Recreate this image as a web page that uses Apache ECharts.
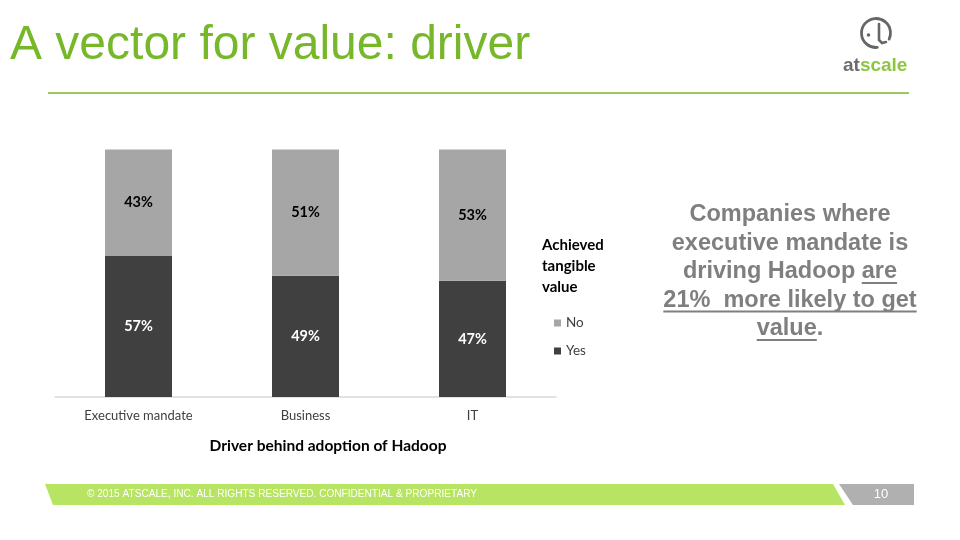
<!DOCTYPE html>
<html>
<head>
<meta charset="utf-8">
<title>A vector for value: driver</title>
<script src="https://cdn.jsdelivr.net/npm/echarts@6/dist/echarts.min.js"></script>
<style>
  html, body { margin: 0; padding: 0; background: #fff; }
  #main { width: 960px; height: 540px; }
</style>
</head>
<body>
<div id="main"></div>
<script>
// chart data
var categories = ['Executive mandate', 'Business', 'IT'];
var yesValues = [57, 49, 47];
var noValues = [43, 51, 53];
var seriesNames = ['No', 'Yes'];

var GREEN = '#77b82a';
var GRAY_TEXT = '#7f7f7f';
var SANS = '"Liberation Sans", Arial, sans-serif';
var CHART_FONT = 'Lato, "Open Sans", sans-serif';

// measure text so the underlines sit under the right words
var ctx = document.createElement('canvas').getContext('2d');
function textWidth(str, font) {
    ctx.font = font;
    return ctx.measureText(str).width;
}
function deg(d) { return d * Math.PI / 180; }

var calloutFont = 'bold 23.5px ' + SANS;
var calloutLines = [
    'Companies where',
    'executive mandate is',
    'driving Hadoop are',
    '21%  more likely to get',
    'value.'
];
var calloutX = 790, calloutY0 = 215, calloutStep = 28.5;

var graphics = [];

// title + separator
graphics.push({
    type: 'text', left: 10, top: 22,
    style: { text: 'A vector for value: driver', fill: GREEN, font: '48px ' + SANS }
});
graphics.push({
    type: 'line', shape: { x1: 48, y1: 93, x2: 909, y2: 93 },
    style: { stroke: GREEN, lineWidth: 1.5 }
});

// logo
graphics.push({
    type: 'arc', shape: { cx: 876, cy: 33, r: 14.5, startAngle: deg(85), endAngle: deg(385), clockwise: true },
    style: { stroke: '#666', lineWidth: 2.8, fill: null, lineCap: 'round' }
});
graphics.push({
    type: 'circle', shape: { cx: 868.5, cy: 35, r: 1.8 }, style: { fill: '#666' }
});
graphics.push({
    type: 'polyline', shape: { points: [[879, 24], [879, 40], [882, 43], [886, 42]] },
    style: { stroke: '#666', lineWidth: 2.6, fill: null, lineCap: 'round' }
});
graphics.push({
    type: 'text', left: 843, top: 56,
    style: {
        text: '{a|at}{b|scale}',
        rich: {
            a: { fill: '#6d6d6d', font: 'bold 19px ' + SANS },
            b: { fill: '#8cc63f', font: 'bold 19px ' + SANS }
        }
    }
});

// callout text
calloutLines.forEach(function (line, i) {
    graphics.push({
        type: 'text', x: calloutX, y: calloutY0 + i * calloutStep,
        style: { text: line, fill: GRAY_TEXT, font: calloutFont, align: 'center', verticalAlign: 'middle' }
    });
});
function underline(lineIdx, before, part) {
    var full = calloutLines[lineIdx];
    var w = textWidth(full, calloutFont);
    var start = calloutX - w / 2 + textWidth(before, calloutFont);
    var end = start + textWidth(part, calloutFont);
    var y = calloutY0 + lineIdx * calloutStep + 11;
    graphics.push({
        type: 'line', shape: { x1: start, y1: y, x2: end, y2: y },
        style: { stroke: GRAY_TEXT, lineWidth: 2 }
    });
}
underline(2, 'driving Hadoop ', 'are');
underline(3, '', '21%  more likely to get');
underline(4, '', 'value');

// legend title
graphics.push({
    type: 'text', left: 542, top: 235,
    style: {
        text: 'Achieved\ntangible\nvalue', fill: '#000',
        font: 'bold 15px ' + CHART_FONT, lineHeight: 21
    }
});

// x axis title
graphics.push({
    type: 'text', x: 328, y: 446,
    style: {
        text: 'Driver behind adoption of Hadoop', fill: '#000',
        font: 'bold 15.5px ' + CHART_FONT, align: 'center', verticalAlign: 'middle'
    }
});

// footer
graphics.push({
    type: 'polygon', shape: { points: [[45, 484], [833, 484], [845, 505], [53, 505]] },
    style: { fill: '#b8e463' }
});
graphics.push({
    type: 'polygon', shape: { points: [[839, 484], [914, 484], [914, 505], [853, 505]] },
    style: { fill: '#b0b0b0' }
});
var footerText = '\u00a9 2015 ATSCALE, INC. ALL RIGHTS RESERVED. CONFIDENTIAL & PROPRIETARY';
var footerFont = '10px ' + SANS;
graphics.push({
    type: 'text', x: 87, y: 494.5, scaleX: 390 / textWidth(footerText, footerFont),
    style: { text: footerText, fill: '#fff', font: footerFont, verticalAlign: 'middle' }
});
graphics.push({
    type: 'text', x: 881, y: 494.5,
    style: { text: '10', fill: '#fff', font: '13px ' + SANS, align: 'center', verticalAlign: 'middle' }
});

var chart = echarts.init(document.getElementById('main'));
chart.setOption({
    backgroundColor: '#fff',
    animation: false,
    grid: { left: 55, right: 404, top: 149.5, bottom: 143 },
    legend: {
        data: seriesNames,
        orient: 'vertical',
        left: 549, top: 311,
        icon: 'rect', itemWidth: 7, itemHeight: 7, itemGap: 14,
        textStyle: { color: '#404040', fontSize: 13.5, fontFamily: CHART_FONT }
    },
    xAxis: {
        type: 'category',
        data: categories,
        axisLine: { lineStyle: { color: '#d9d9d9', width: 1.5 } },
        axisTick: { show: false },
        axisLabel: { color: '#404040', fontSize: 13, fontFamily: CHART_FONT, margin: 12 }
    },
    yAxis: {
        type: 'value', min: 0, max: 100, show: false
    },
    series: [{
        name: 'Yes', type: 'bar', stack: 'all', barWidth: 67,
        data: yesValues,
        itemStyle: { color: '#404040' },
        label: {
            show: true, position: 'inside', formatter: '{c}%',
            color: '#fff', fontWeight: 'bold', fontSize: 14.5, fontFamily: CHART_FONT
        }
    }, {
        name: 'No', type: 'bar', stack: 'all', barWidth: 67,
        data: noValues,
        itemStyle: { color: '#a6a6a6' },
        label: {
            show: true, position: 'inside', formatter: '{c}%',
            color: '#000', fontWeight: 'bold', fontSize: 14.5, fontFamily: CHART_FONT
        }
    }],
    graphic: graphics
});
</script>
</body>
</html>
